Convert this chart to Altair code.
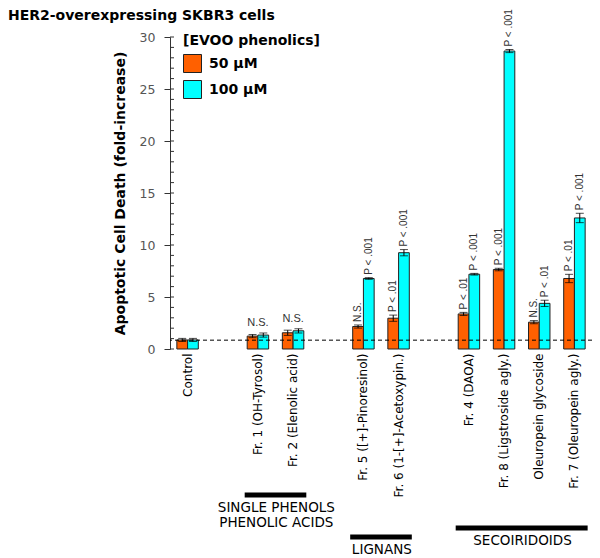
import altair as alt
import pandas as pd

# ---------------- data ----------------
categories = ["Control", " ", "Fr. 1 (OH-Tyrosol)", "Fr. 2 (Elenolic acid)", "  ",
              "Fr. 5 ([+]-Pinoresinol)", "Fr. 6 (1-[+]-Acetoxypin.)", "   ",
              "Fr. 4 (DAOA)", "Fr. 8 (Ligstroside agly.)", "Oleuropein glycoside",
              "Fr. 7 (Oleuropein agly.)"]
bar_cats = ["Control", "Fr. 1 (OH-Tyrosol)", "Fr. 2 (Elenolic acid)",
            "Fr. 5 ([+]-Pinoresinol)", "Fr. 6 (1-[+]-Acetoxypin.)",
            "Fr. 4 (DAOA)", "Fr. 8 (Ligstroside agly.)", "Oleuropein glycoside",
            "Fr. 7 (Oleuropein agly.)"]
doses = ["50 μM", "100 μM"]
val_50 = [0.87, 1.24, 1.56, 2.16, 2.96, 3.37, 7.64, 2.58, 6.78]
val_100 = [0.87, 1.34, 1.75, 6.78, 9.26, 7.19, 28.65, 4.39, 12.6]
err_50 = [0.15, 0.15, 0.25, 0.15, 0.3, 0.15, 0.12, 0.15, 0.4]
err_100 = [0.15, 0.2, 0.2, 0.08, 0.3, 0.08, 0.15, 0.3, 0.45]
lab_50 = ["", "", "", "N.S.", "P < .01", "P < .01", "P < .001", "N.S.", "P < .01"]
lab_100 = ["", "", "", "P < .001", "P < .001", "P < .001", "P < .001", "P < .01", "P < .001"]

pair_label_cats = ["Fr. 1 (OH-Tyrosol)", "Fr. 2 (Elenolic acid)"]
pair_label_text = ["N.S.", "N.S."]

control_level = 0.85

group_names = [["SINGLE PHENOLS", "PHENOLIC ACIDS"], ["LIGNANS"], ["SECOIRIDOIDS"]]
group_first = ["Fr. 1 (OH-Tyrosol)", "Fr. 5 ([+]-Pinoresinol)", "Fr. 4 (DAOA)"]
group_last = ["Fr. 2 (Elenolic acid)", "Fr. 6 (1-[+]-Acetoxypin.)", "Fr. 7 (Oleuropein agly.)"]
group_mid = ["Fr. 2 (Elenolic acid)", "Fr. 6 (1-[+]-Acetoxypin.)", "Oleuropein glycoside"]

title_text = "HER2-overexpressing SKBR3 cells"
y_title = "Apoptotic Cell Death (fold-increase)"
y_ticks = [0, 5, 10, 15, 20, 25, 30]
minor_ticks = list(range(0, 31))

# ---------------- tables ----------------
rows = []
for i, c in enumerate(bar_cats):
    rows.append(dict(cat=c, dose=doses[0], value=val_50[i], lo=val_50[i] - err_50[i],
                     hi=val_50[i] + err_50[i], label=lab_50[i]))
    rows.append(dict(cat=c, dose=doses[1], value=val_100[i], lo=val_100[i] - err_100[i],
                     hi=val_100[i] + err_100[i], label=lab_100[i]))
df = pd.DataFrame(rows)

pair_rows = []
for c, t in zip(pair_label_cats, pair_label_text):
    sub = df[df.cat == c]
    pair_rows.append(dict(cat=c, top=sub.hi.max(), text=t))
pair_df = pd.DataFrame(pair_rows)

ticks_df = pd.DataFrame({"t": minor_ticks})

# ---------------- styles ----------------
ORANGE = "#FF6000"
CYAN = "#00FFFF"
FONT = "DejaVu Sans"
LFONT = "Liberation Sans"

xscale = alt.Scale(domain=categories, paddingInner=0.39, paddingOuter=0.195)
yscale = alt.Scale(domain=[0, 30], nice=False, zero=True)

X = alt.X("cat:N", scale=xscale, sort=categories,
          axis=alt.Axis(title=None, labelAngle=270, labelFont=FONT, labelFontSize=12,
                        labelColor="black", labelPadding=4, ticks=False, domain=False,
                        labelLimit=300))
XO = alt.XOffset("dose:N", sort=doses, scale=alt.Scale(domain=doses, paddingInner=0))

base = alt.Chart(df)

bars = base.mark_bar(stroke="#222", strokeWidth=1).encode(
    x=X,
    xOffset=XO,
    y=alt.Y("value:Q", scale=yscale,
            axis=alt.Axis(title=y_title, values=y_ticks,
                          grid=False, tickSize=6, tickColor="#333", domainColor="#333",
                          labelFont=FONT, labelFontSize=12.5, labelColor="#555",
                          labelPadding=9, titleFont=FONT, titleFontSize=14,
                          titleFontWeight="bold", titleColor="black", titlePadding=12)),
    color=alt.Color("dose:N", sort=doses,
                    scale=alt.Scale(domain=doses, range=[ORANGE, CYAN]),
                    legend=alt.Legend(title="[EVOO phenolics]", orient="none",
                                      legendX=13, legendY=-3, titleFont=FONT,
                                      titleFontSize=14, titleFontWeight="bold",
                                      titleColor="black", titlePadding=6,
                                      labelFont=FONT, labelFontSize=14,
                                      labelFontWeight="bold", labelColor="black",
                                      symbolType="square", symbolSize=324,
                                      symbolStrokeColor="#222", symbolStrokeWidth=1,
                                      symbolOpacity=1, rowPadding=3, labelOffset=7)),
)

err_line = base.mark_rule(color="black", strokeWidth=1).encode(
    x=alt.X("cat:N", scale=xscale, sort=categories), xOffset=XO,
    y=alt.Y("lo:Q", scale=yscale), y2="hi:Q")
cap_hi = base.mark_tick(color="black", thickness=1, size=8).encode(
    x=alt.X("cat:N", scale=xscale, sort=categories), xOffset=XO,
    y=alt.Y("hi:Q", scale=yscale))
cap_lo = base.mark_tick(color="black", thickness=1, size=8).encode(
    x=alt.X("cat:N", scale=xscale, sort=categories), xOffset=XO,
    y=alt.Y("lo:Q", scale=yscale))

plabels = base.mark_text(angle=270, align="left", baseline="middle", dx=3,
                         font=LFONT, fontSize=10, color="#333").encode(
    x=alt.X("cat:N", scale=xscale, sort=categories), xOffset=XO,
    y=alt.Y("hi:Q", scale=yscale), text="label:N")

pair_text = alt.Chart(pair_df).mark_text(baseline="bottom", dy=-5, font=LFONT,
                                         fontSize=11, color="#333").encode(
    x=alt.X("cat:N", scale=xscale, sort=categories),
    y=alt.Y("top:Q", scale=yscale), text="text:N")

ref = alt.Chart(pd.DataFrame({"v": [control_level]})).mark_rule(
    color="black", strokeDash=[4, 3], strokeWidth=1).encode(y=alt.Y("v:Q", scale=yscale))

inner_ticks = alt.Chart(ticks_df).mark_rule(color="#333", strokeWidth=1).encode(
    y=alt.Y("t:Q", scale=yscale), x=alt.value(0), x2=alt.value(4))

title_mark = alt.Chart(pd.DataFrame({"t": [title_text]})).mark_text(
    align="left", baseline="alphabetic", font=FONT, fontSize=14, fontWeight="bold",
    color="black").encode(x=alt.value(-162), y=alt.value(-17), text="t:N")

layers = [bars, err_line, cap_lo, cap_hi, plabels, pair_text, ref, inner_ticks, title_mark]

# group brackets below the axis labels
group_rule_y = [458, 500, 491]
for i in range(len(group_names)):
    gdf = pd.DataFrame({"first": [group_first[i]], "last": [group_last[i]],
                        "mid": [group_mid[i]], "name": [group_names[i]]})
    gc = alt.Chart(gdf)
    layers.append(gc.mark_rule(color="black", strokeWidth=5, strokeCap="square").encode(
        x=alt.X("first:N", scale=xscale, sort=categories, bandPosition=0),
        x2=alt.X2("last:N", bandPosition=1),
        y=alt.value(group_rule_y[i])))
    layers.append(gc.mark_text(baseline="top", align="center", font=FONT, fontSize=13.5,
                               lineHeight=14.5, dx=-6, color="black").encode(
        x=alt.X("mid:N", scale=xscale, sort=categories, bandPosition=0),
        y=alt.value(group_rule_y[i] + 6), text="name"))

chart = alt.layer(*layers).properties(
    width=422, height=312,
    autosize=alt.AutoSizeParams(type="none"),
    padding={"left": 162, "top": 29, "right": 0, "bottom": 212},
).configure_view(stroke=None)

chart.save("out.html", embed_options={"renderer": "svg", "actions": False})
